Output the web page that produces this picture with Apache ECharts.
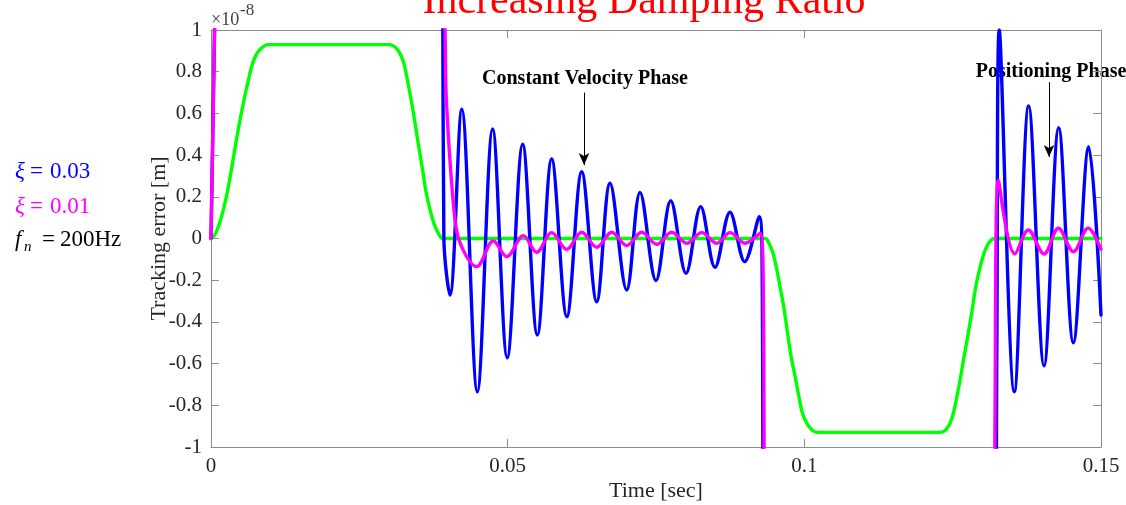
<!DOCTYPE html>
<html>
<head>
<meta charset="utf-8">
<title>Increasing Damping Ratio</title>
<script src="https://cdn.jsdelivr.net/npm/echarts@6/dist/echarts.min.js"></script>
<style>
  html, body { margin: 0; padding: 0; background: #fff; }
  #chart { width: 1126px; height: 505px; }
</style>
</head>
<body>
<div id="chart"></div>
<script>
// Tracking error in units of 1e-8 m against time [sec].
// Values above 1 / below -1 are off the plot and get clipped by the axes.

// reference (rigid) error
const greenError = [
  [0, 0], [0.0007, 0.02], [0.0014, 0.07], [0.0021, 0.14], [0.0028, 0.23], [0.0035, 0.34],
  [0.0042, 0.46], [0.0049, 0.57], [0.0056, 0.67], [0.0063, 0.76], [0.0070, 0.84],
  [0.0078, 0.89], [0.0087, 0.918], [0.0096, 0.93],
  [0.0302, 0.93], [0.0310, 0.918], [0.0318, 0.89], [0.0325, 0.84], [0.0331, 0.76],
  [0.0337, 0.67], [0.0343, 0.57], [0.0349, 0.46], [0.0356, 0.34], [0.0362, 0.23],
  [0.0369, 0.14], [0.0376, 0.07], [0.0384, 0.02], [0.0391, 0],
  [0.0934, 0], [0.0940, -0.02], [0.0947, -0.07], [0.0953, -0.14], [0.0959, -0.23],
  [0.0966, -0.34], [0.0972, -0.46], [0.0978, -0.57], [0.0985, -0.67], [0.0991, -0.76],
  [0.0997, -0.84], [0.1005, -0.89], [0.1013, -0.918], [0.1021, -0.93],
  [0.1230, -0.93], [0.1238, -0.918], [0.1245, -0.89], [0.1251, -0.84], [0.1257, -0.76],
  [0.1263, -0.67], [0.1269, -0.57], [0.1276, -0.46], [0.1283, -0.34], [0.1289, -0.23],
  [0.1296, -0.14], [0.1303, -0.07], [0.1311, -0.02], [0.1321, 0], [0.15, 0]
];

// xi = 0.03
const blueError = [
  [0, 0], [0.0006, 1.0], [0.0015, 2.5], [0.0386, 2.5], [0.03905, 1.2], [0.03925, 0],
  [0.04028, -0.271], [0.04226, 0.620], [0.04489, -0.735], [0.04747, 0.525],
  [0.04993, -0.572], [0.05253, 0.452], [0.05500, -0.463], [0.05742, 0.381],
  [0.05998, -0.375], [0.06248, 0.320], [0.06501, -0.303], [0.06725, 0.265],
  [0.07006, -0.247], [0.07231, 0.221], [0.07500, -0.202], [0.07748, 0.181],
  [0.08006, -0.167], [0.08253, 0.153], [0.08494, -0.138], [0.08747, 0.126],
  [0.08994, -0.111], [0.09241, 0.105], [0.09290, -0.2], [0.09320, -2.5],
  [0.1320, -2.5], [0.13245, -0.5], [0.13285, 1.0], [0.13539, -0.735],
  [0.13781, 0.636], [0.14040, -0.611], [0.14287, 0.531], [0.14534, -0.50],
  [0.14793, 0.44], [0.15, -0.367]
];

// xi = 0.01
const magentaError = [
  [0, 0], [0.0006, 1.0], [0.0015, 2.5], [0.0380, 2.5], [0.03944, 1.0], [0.03969, 0.65],
  [0.04112, 0.09], [0.04225, -0.04], [0.04478, -0.135], [0.04759, -0.012],
  [0.04984, -0.087], [0.05264, 0.014], [0.05489, -0.066], [0.05742, 0.028],
  [0.05995, -0.052], [0.06248, 0.030], [0.06501, -0.042], [0.06753, 0.030],
  [0.07006, -0.034], [0.07259, 0.030], [0.07512, -0.028], [0.07764, 0.030],
  [0.08017, -0.023], [0.08270, 0.028], [0.08523, -0.023], [0.08747, 0.028],
  [0.09000, -0.023], [0.09253, 0.025], [0.09310, -0.3], [0.0934, -2.5],
  [0.1319, -2.5], [0.13215, -0.8], [0.13270, 0.28], [0.13550, -0.074],
  [0.13776, 0.041], [0.14040, -0.074], [0.14282, 0.049], [0.14534, -0.063],
  [0.14782, 0.050], [0.15, -0.052]
];

// annotation arrows [time, error] start -> end
const velocityArrow = [[0.06287, 0.70], [0.06287, 0.352]];
const positioningArrow = [[0.14124, 0.75], [0.14124, 0.391]];

const timeAxis = { min: 0, max: 0.15, interval: 0.05 };
const errorAxis = { min: -1, max: 1, interval: 0.2 };

const SERIF = '"Liberation Serif", "Times New Roman", serif';
const AXIS_GRAY = "#8c8c8c";
const TEXT_DARK = "#262626";

const chart = echarts.init(document.getElementById("chart"));

function boxAxis(range, position, showLabels, name) {
  return {
    type: "value",
    position: position,
    min: range.min,
    max: range.max,
    interval: range.interval,
    name: showLabels ? name : "",
    nameLocation: "middle",
    nameMoveOverlap: false,
    nameTextStyle: { fontFamily: SERIF, fontSize: 22, color: TEXT_DARK },
    axisLine: { show: true, onZero: false, lineStyle: { color: AXIS_GRAY, width: 1 } },
    axisTick: { show: true, inside: true, length: 8, lineStyle: { color: AXIS_GRAY } },
    axisLabel: {
      show: showLabels,
      margin: 9,
      fontFamily: SERIF,
      fontSize: 21,
      color: TEXT_DARK,
    },
    splitLine: { show: false },
  };
}

function arrowLine(points) {
  return [{ coord: points[0] }, { coord: points[1] }];
}

// plain text piece for the graphic layer
function note(x, y, text, font, color, align) {
  return {
    type: "text", x: x, y: y, silent: true,
    style: { text: text, fill: color, font: font + " " + SERIF,
      align: align || "left", verticalAlign: "middle" },
  };
}

const xBottom = boxAxis(timeAxis, "bottom", true, "Time [sec]");
xBottom.nameGap = 33;
xBottom.axisLabel.margin = 9;
const yLeft = boxAxis(errorAxis, "left", true, "Tracking error [m]");
yLeft.nameGap = 41;

const lineSeries = (name, data, color) => ({
  name: name,
  type: "line",
  data: data,
  showSymbol: false,
  symbol: "none",
  smooth: 0.35,
  clip: true,
  lineStyle: { color: color, width: 3.4, join: "round", cap: "round" },
  emphasis: { disabled: true },
  silent: true,
});

const option = {
  animation: false,
  backgroundColor: "#fff",
  grid: { left: 211, right: 25, top: 30, bottom: 58, outerBoundsMode: "none", containLabel: false },
  xAxis: [xBottom, boxAxis(timeAxis, "top", false)],
  yAxis: [yLeft, boxAxis(errorAxis, "right", false)],
  series: [
    lineSeries("rigid", greenError, "#00ff00"),
    lineSeries("xi = 0.03", blueError, "#0000ff"),
    Object.assign(lineSeries("xi = 0.01", magentaError, "#ff00ff"), {
      markLine: {
        silent: true,
        symbol: ["none", "arrow"],
        symbolSize: [8, 12],
        label: { show: false },
        lineStyle: { color: "#000", width: 1, type: "solid" },
        emphasis: { disabled: true },
        data: [arrowLine(velocityArrow), arrowLine(positioningArrow)],
      },
    }),
  ],
  graphic: [
    note(644, 2, "Increasing Damping Ratio", "42px", "#ff0000", "center"),
    note(211, 20, "×10", "18px", "#404040"),
    note(240, 11, "-8", "17px", "#404040"),
    // damping ratio / natural frequency notes
    note(15, 172, "ξ", "italic 23px", "#0000ff"),
    note(30, 172, "=", "23px", "#0000ff"),
    note(50, 172, "0.03", "23px", "#0000ff"),
    note(15, 207, "ξ", "italic 23px", "#ff00ff"),
    note(30, 207, "=", "23px", "#ff00ff"),
    note(50, 207, "0.01", "23px", "#ff00ff"),
    note(15, 240, "f", "italic 23px", "#000"),
    note(24, 247, "n", "italic 15px", "#000"),
    note(42, 240, "=", "23px", "#000"),
    note(60, 240, "200Hz", "23px", "#000"),
    // phase labels above the arrows
    note(585, 79, "Constant Velocity Phase", "bold 20px", "#000", "center"),
    note(1051, 72, "Positioning Phase", "bold 20px", "#000", "center"),
  ],
};

chart.setOption(option);

window.addEventListener("resize", function () {
  chart.resize();
});
</script>
</body>
</html>
